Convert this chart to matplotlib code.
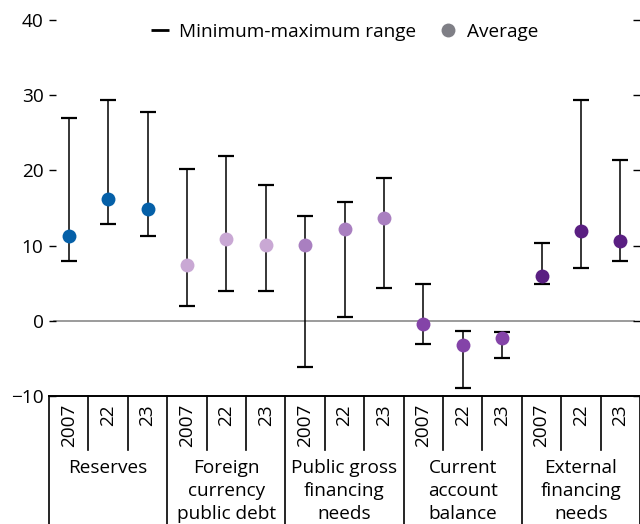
import matplotlib
matplotlib.use("Agg")
import matplotlib.pyplot as plt
from matplotlib.lines import Line2D
from matplotlib.transforms import blended_transform_factory

plt.rcParams['font.family'] = ['Open Sans', 'DejaVu Sans']

# data
groups = ["Reserves", "Foreign\ncurrency\npublic debt", "Public gross\nfinancing\nneeds",
          "Current\naccount\nbalance", "External\nfinancing\nneeds"]
years = ["2007", "22", "23"]
group_colors = ["#0560a8", "#c9a8d4", "#a97fc0", "#8444a8", "#5a1f82"]

avg_vals = [11.3, 16.2, 14.9,
            7.4, 10.9, 10.1,
            10.1, 12.2, 13.7,
            -0.4, -3.2, -2.3,
            6.0, 12.0, 10.6]
min_vals = [7.9, 12.9, 11.3,
            2.0, 4.0, 4.0,
            -6.1, 0.5, 4.4,
            -3.1, -9.0, -4.9,
            4.9, 7.0, 7.9]
max_vals = [27.0, 29.3, 27.8,
            20.2, 21.9, 18.0,
            14.0, 15.8, 19.0,
            4.9, -1.3, -1.5,
            10.4, 29.3, 21.4]

W, H = 640, 524
FS = 13.7
fig = plt.figure(figsize=(W / 100, H / 100), dpi=100)
ax_left, ax_right, ax_top, ax_bot = 49, 640, 20, 396
ax = fig.add_axes([ax_left / W, (H - ax_bot) / H, (ax_right - ax_left) / W, (ax_bot - ax_top) / H])


def yfrac(py):
    # pixel row -> axes fraction
    return (ax_bot - py) / (ax_bot - ax_top)


n = len(avg_vals)
xs = list(range(n))
ax.set_xlim(-0.5, n - 0.5)
ax.set_ylim(-10, 40)

ax.axhline(0, color="#808080", lw=1.1, zorder=1, xmin=0.008, xmax=0.99)

lower = [a - lo for a, lo in zip(avg_vals, min_vals)]
upper = [hi - a for a, hi in zip(avg_vals, max_vals)]
ax.errorbar(xs, avg_vals, yerr=[lower, upper], fmt="none", ecolor="black",
            elinewidth=1.1, capsize=5.8, capthick=1.6, zorder=2)

for i, v in enumerate(avg_vals):
    ax.plot(i, v, "o", ms=10, color=group_colors[i // 3], mec="none", zorder=3)

# axes styling
for s in ["top", "left", "right"]:
    ax.spines[s].set_visible(False)
ax.spines["bottom"].set_linewidth(1.4)
ax.set_xticks([])
ax.set_yticks([-10, 0, 10, 20, 30, 40])
ax.set_yticklabels(["\u221210", "0", "10", "20", "30", "40"])
ax.tick_params(axis="y", direction="in", length=5, width=1, pad=4, labelsize=FS,
               right=True, colors="black")

# category axis below the plot
trans = blended_transform_factory(ax.transData, ax.transAxes)
for i in range(n + 1):
    xb = i - 0.5
    if i % 3 == 0:
        ax.plot([xb, xb], [0, yfrac(H + 2)], transform=trans, color="black",
                lw=1.2, clip_on=False)
    else:
        ax.plot([xb, xb], [0, yfrac(450)], transform=trans, color="black",
                lw=1.2, clip_on=False)

for i in range(n):
    ax.text(i, yfrac(404), years[i % 3], rotation=90, ha="center", va="top",
            fontsize=FS, transform=trans, clip_on=False)

for g, name in enumerate(groups):
    ax.text(g * 3 + 1, yfrac(459), name, ha="center", va="top", fontsize=FS,
            linespacing=1.37, transform=trans, clip_on=False)

handles = [Line2D([], [], color="black", marker="_", ms=13, mew=2, ls="none"),
           Line2D([], [], color="#7f7f86", marker="o", ms=10, mec="none", ls="none")]
ax.legend(handles, ["Minimum-maximum range", "Average"], ncol=2, frameon=False,
          loc="center", bbox_to_anchor=(0.5, yfrac(32)), fontsize=FS,
          handlelength=1.0, handletextpad=0.5, columnspacing=1.2)

fig.savefig("out.png", dpi=100)
